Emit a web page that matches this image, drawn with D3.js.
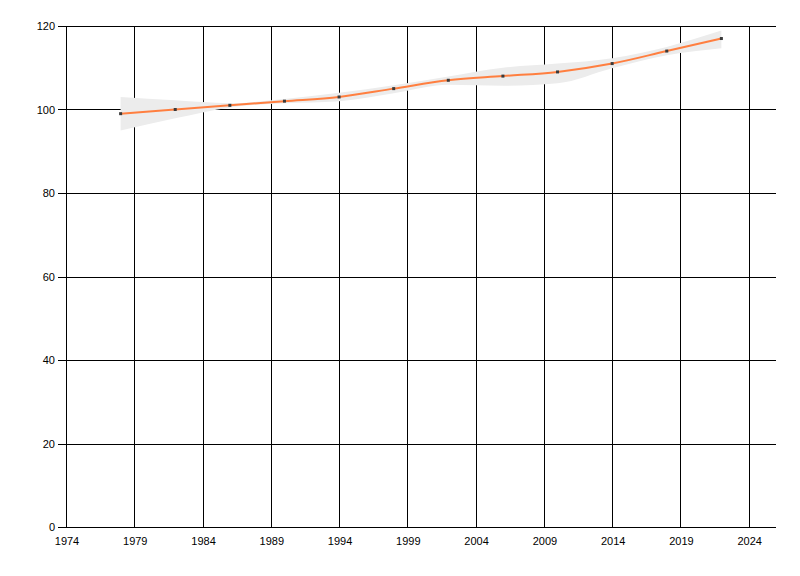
<!DOCTYPE html>
<html>
<head>
<meta charset="utf-8">
<script src="https://cdn.jsdelivr.net/npm/d3@7"></script>
<style>
  body { margin: 0; background: #fff; }
  svg { display: block; }
</style>
</head>
<body>
<div class="root"></div>
<script>
// Data
var years = [1978, 1982, 1986, 1990, 1994, 1998, 2002, 2006, 2010, 2014, 2018, 2022];
var values = [99, 100, 101, 102, 103, 105, 107, 108, 109, 111, 114, 117];
var upper = [103, 102.2, 101.5, 102.5, 104, 105.8, 107.9, 110, 111, 112.3, 115, 118.9];
var lower = [95, 97.9, 100.5, 101.5, 102, 103.9, 105.9, 105.7, 106.3, 109.9, 113, 114.7];
var xTicks = [1974, 1979, 1984, 1989, 1994, 1999, 2004, 2009, 2014, 2019, 2024];
var yTicks = [0, 20, 40, 60, 80, 100, 120];

var data = years.map(function (y, i) {
    return { year: y, value: values[i], hi: upper[i], lo: lower[i] };
});

// Set the dimensions of the canvas / graph
var margin = { top: 26, right: 24, bottom: 49, left: 66 },
    width = 800 - margin.left - margin.right,
    height = 576 - margin.top - margin.bottom;

var xScale = d3.scaleLinear().domain([1974, 2026]).range([0, width]);
var yScale = d3.scaleLinear().domain([0, 120]).range([height, 0]);

var svg = d3.select(".root").append("svg")
    .attr("width", 800)
    .attr("height", 576)
    .append("g")
    .attr("transform", "translate(" + margin.left + "," + margin.top + ")");

// Grid lines
svg.append("g").selectAll("line").data(xTicks).join("line")
    .attr("x1", d => Math.round(xScale(d)) + 0.5)
    .attr("x2", d => Math.round(xScale(d)) + 0.5)
    .attr("y1", 0).attr("y2", height)
    .attr("stroke", "#000").attr("stroke-width", 1);

svg.append("g").selectAll("line").data(yTicks).join("line")
    .attr("x1", -8).attr("x2", width)
    .attr("y1", d => Math.round(yScale(d)) + 0.5)
    .attr("y2", d => Math.round(yScale(d)) + 0.5)
    .attr("stroke", "#000").attr("stroke-width", 1);

// Confidence band
var band = d3.area()
    .x(d => xScale(d.year))
    .y0(d => yScale(d.lo))
    .y1(d => yScale(d.hi))
    .curve(d3.curveMonotoneX);

svg.append("path").datum(data)
    .attr("fill", "#ececec")
    .attr("d", band);

// Main line
var line = d3.line()
    .x(d => xScale(d.year))
    .y(d => yScale(d.value))
    .curve(d3.curveMonotoneX);

svg.append("path").datum(data)
    .attr("fill", "none")
    .attr("stroke", "#ff7f40")
    .attr("stroke-width", 2)
    .attr("stroke-linejoin", "round")
    .attr("d", line);

// Point markers
svg.append("g").selectAll("rect").data(data).join("rect")
    .attr("x", d => xScale(d.year) - 1.5)
    .attr("y", d => yScale(d.value) - 1.5)
    .attr("width", 3).attr("height", 3)
    .attr("fill", "#3a3a3a");

// Axis lines
svg.append("line")
    .attr("x1", 0.5).attr("x2", 0.5).attr("y1", 0).attr("y2", height)
    .attr("stroke", "#000");
svg.append("line")
    .attr("x1", 0).attr("x2", width)
    .attr("y1", Math.round(height) + 0.5).attr("y2", Math.round(height) + 0.5)
    .attr("stroke", "#000");

// Tick labels
svg.append("g").selectAll("text").data(xTicks).join("text")
    .attr("font-family", "Liberation Sans, Arial, sans-serif")
    .attr("font-size", 11)
    .attr("text-anchor", "middle")
    .attr("x", d => xScale(d) + 1)
    .attr("y", height + 18)
    .attr("fill", "#000")
    .text(d => d);

svg.append("g").selectAll("text").data(yTicks).join("text")
    .attr("font-family", "Liberation Sans, Arial, sans-serif")
    .attr("font-size", 11)
    .attr("text-anchor", "end")
    .attr("x", -11)
    .attr("y", d => yScale(d) + 4)
    .attr("fill", "#000")
    .text(d => d);
</script>
</body>
</html>
